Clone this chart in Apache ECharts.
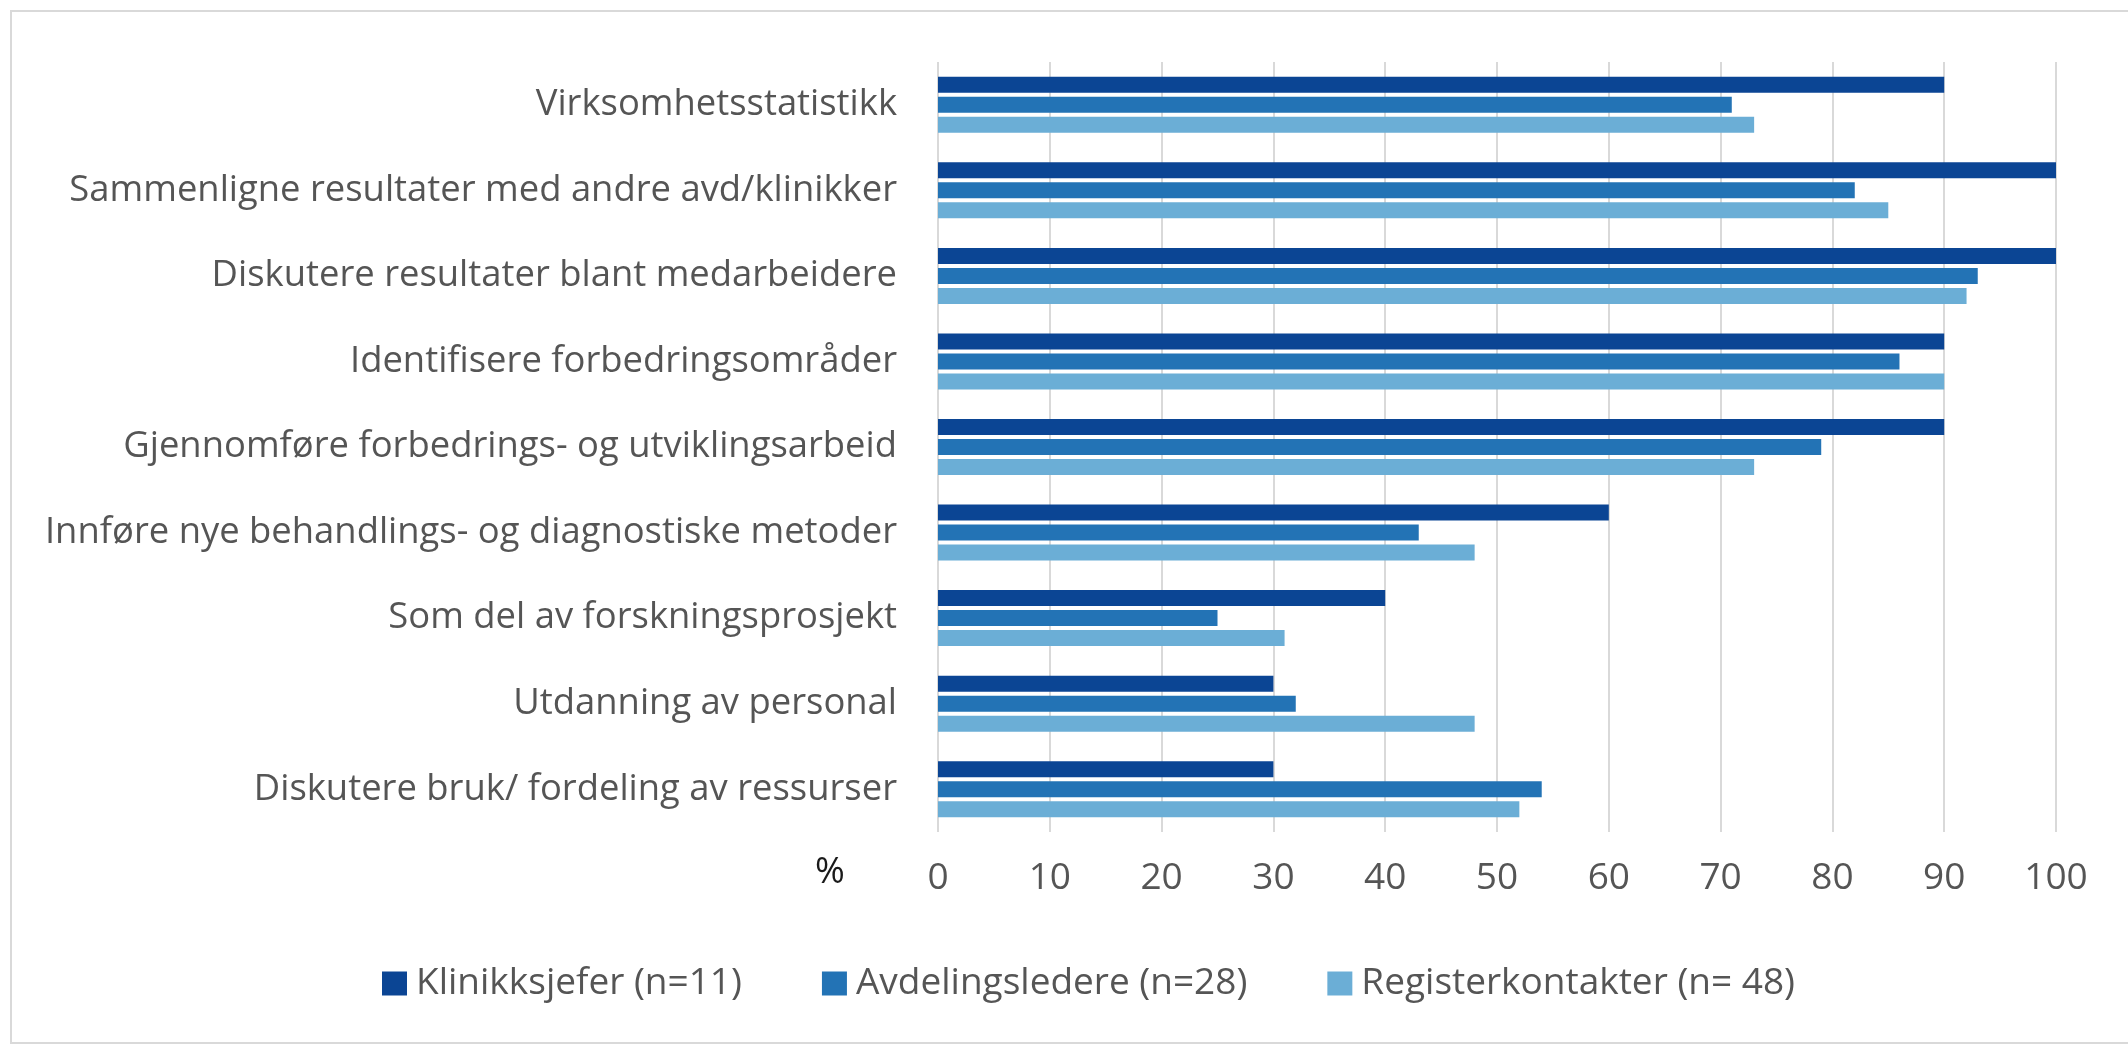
<!DOCTYPE html>
<html>
<head>
<meta charset="utf-8">
<script src="https://cdn.jsdelivr.net/npm/echarts@6/dist/echarts.min.js"></script>
<style>
html,body{margin:0;padding:0;background:#fff;}
#chart{width:2128px;height:1045px;}
</style>
</head>
<body>
<div id="chart"></div>
<script>
const categories = [
  "Virksomhetsstatistikk",
  "Sammenligne resultater med andre avd/klinikker",
  "Diskutere resultater blant medarbeidere",
  "Identifisere forbedringsområder",
  "Gjennomføre forbedrings- og utviklingsarbeid",
  "Innføre nye behandlings- og diagnostiske metoder",
  "Som del av forskningsprosjekt",
  "Utdanning av personal",
  "Diskutere bruk/ fordeling av ressurser"
];
const seriesNames = ["Klinikksjefer (n=11)", "Avdelingsledere (n=28)", "Registerkontakter (n= 48)"];
const klinikksjefer = [90, 100, 100, 90, 90, 60, 40, 30, 30];
const avdelingsledere = [71, 82, 93, 86, 79, 43, 25, 32, 54];
const registerkontakter = [73, 85, 92, 90, 73, 48, 31, 48, 52];
const xTicks = [0, 10, 20, 30, 40, 50, 60, 70, 80, 90, 100];
const axisUnit = "%";

const colors = ["#0B4594", "#2373B5", "#6BAED6"];
const font = "Open Sans";
const textColor = "#555555";

const chart = echarts.init(document.getElementById('chart'));
const values = [klinikksjefer, avdelingsledere, registerkontakter];
chart.setOption({
  animation: false,
  backgroundColor: '#fff',
  textStyle: {fontFamily: font},
  grid: {left: 938, right: 72, top: 62, bottom: 213, containLabel: false},
  xAxis: {
    type: 'value', min: xTicks[0], max: xTicks[xTicks.length - 1], interval: 10,
    axisLine: {show: false}, axisTick: {show: false},
    splitLine: {show: true, lineStyle: {color: '#d9d9d9', width: 2}},
    axisLabel: {color: textColor, fontSize: 37, fontFamily: font, margin: 28}
  },
  yAxis: {
    type: 'category', data: categories, inverse: true,
    axisLine: {show: false}, axisTick: {show: false},
    axisLabel: {color: textColor, fontSize: 36.4, fontFamily: font, margin: 41}
  },
  legend: {
    left: 377, top: 960, itemWidth: 25, itemHeight: 24, itemGap: 80,
    icon: 'rect',
    textStyle: {color: textColor, fontSize: 37, fontFamily: font, padding: [0, 0, 0, 4]},
    data: seriesNames
  },
  graphic: [
    {type: 'rect', shape: {x: 11, y: 11, width: 2200, height: 1032}, style: {fill: 'none', stroke: '#d9d9d9', lineWidth: 2}, silent: true},
    {type: 'text', x: 830, y: 873, style: {text: axisUnit, fill: '#1a1a1a', font: '36px "Open Sans"', textAlign: 'center', textVerticalAlign: 'middle'}}
  ],
  series: seriesNames.map((n, i) => ({
    name: n, type: 'bar', data: values[i],
    barWidth: 16, barGap: '25%',
    itemStyle: {color: colors[i]}
  }))
});
</script>
</body>
</html>
